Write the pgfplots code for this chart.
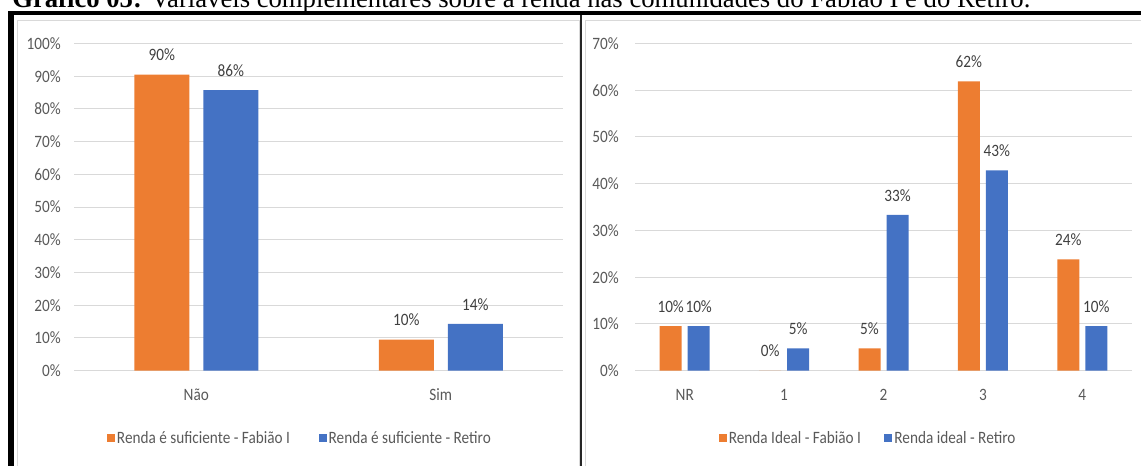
\documentclass[border=0pt]{standalone}
\usepackage{fontspec}
\setmainfont{Carlito}[FakeStretch=0.88]
\newfontfamily\titlefont{Liberation Serif}
\usepackage{graphicx}
\usepackage{pgfplots}
\pgfplotsset{compat=1.18}

\definecolor{cOrange}{HTML}{ED7D31}
\definecolor{cBlue}{HTML}{4472C4}
\definecolor{cGrid}{HTML}{D9D9D9}
\definecolor{cTick}{HTML}{595959}
\definecolor{cLabel}{HTML}{404040}

\newcommand{\chartfont}{\fontsize{13}{15}\selectfont}

\pgfplotsset{
  sqlegend/.style={legend image code/.code={\fill[##1] (0pt,-3pt) rectangle (6pt,3pt);}},
  excelbars/.style={
    scale only axis,
    anchor=south west,
    height=245.4pt,
    ymin=0,
    axis line style={draw=none},
    major tick length=0pt,
    ymajorgrids,
    grid style={cGrid, line width=0.75pt},
    xtick=data,
    /pgf/number format/assume math mode=true,
    tick label style={font=\chartfont, text=cTick},
    yticklabel={\pgfmathprintnumber{\tick}\%},
    yticklabel style={anchor=east, inner sep=0pt},
    xticklabel style={anchor=north, inner sep=0pt, yshift=-13.5pt},
    nodes near coords={\pgfmathprintnumber[fixed,precision=0]{\pgfplotspointmeta}\%},
    nodes near coords style={font=\chartfont, text=cLabel, anchor=south, inner sep=0pt, yshift=10pt},
    legend columns=2,
    legend style={draw=none, fill=none, font=\chartfont, text=cTick, anchor=center,
      nodes={inner sep=1.5pt}},
  }
}

\begin{document}
\begin{tikzpicture}
\useasboundingbox (0,0) rectangle (855.75pt,349.5pt);
\clip (0,0) rectangle (855.75pt,349.5pt);

% caption, cut at the top of the picture
\node[anchor=base west, inner sep=0pt] at (9pt,343.9pt)
  {\resizebox{763.5pt}{!}{\titlefont\textbf{Gráfico 05:} Variáveis complementares sobre a renda nas comunidades do Fabião I e do Retiro.}};

% chart area borders
\draw[cGrid, line width=0.75pt] (12.75pt,-5pt) -- (12.75pt,333.975pt) -- (434.25pt,333.975pt) -- (434.25pt,-5pt);
\draw[cGrid, line width=0.75pt] (438.75pt,-5pt) -- (438.75pt,333.975pt) -- (870pt,333.975pt);

% black frame
\draw[black, line width=3pt] (6pt,339.75pt) -- (860pt,339.75pt);
\draw[black, line width=4.5pt] (8.25pt,-5pt) -- (8.25pt,341.25pt);
\draw[black!85, line width=1.5pt] (436.1pt,-5pt) -- (436.1pt,338.5pt);

% left chart
\begin{axis}[excelbars,
  at={(55.5pt,71.475pt)},
  width=366.75pt,
  ybar=10.5pt, bar width=41.25pt,
  xmin=-0.5, xmax=1.5,
  ymax=100, ytick={0,10,...,100},
  xticklabels={Não,Sim},
  yticklabel style={xshift=-9.75pt},
  legend style={at={(0.462,-0.206)},
    /tikz/every even column/.append style={column sep=20pt}},
]
\addplot[fill=cOrange, draw=none, sqlegend] coordinates {(0,90.48) (1,9.52)};
\addplot[fill=cBlue, draw=none, sqlegend] coordinates {(0,85.71) (1,14.29)};
\legend{Renda é suficiente - Fabião I, Renda é suficiente - Retiro}
\end{axis}

% right chart
\begin{axis}[excelbars,
  at={(476.25pt,71.475pt)},
  width=372.75pt,
  ybar=4.5pt, bar width=16.5pt,
  xmin=-0.5, xmax=4.5,
  ymax=70, ytick={0,10,...,70},
  xticklabels={NR,1,2,3,4},
  yticklabel style={xshift=-12pt},
  legend style={at={(0.469,-0.206)},
    /tikz/every even column/.append style={column sep=16pt}},
]
\addplot[fill=cOrange, draw=none, sqlegend]
  coordinates {(0,9.52) (1,0) (2,4.76) (3,61.90) (4,23.81)};
\addplot[fill=cBlue, draw=none, sqlegend]
  coordinates {(0,9.52) (1,4.76) (2,33.33) (3,42.86) (4,9.52)};
\legend{Renda Ideal - Fabião I, Renda ideal - Retiro}
\end{axis}
\end{tikzpicture}
\end{document}
